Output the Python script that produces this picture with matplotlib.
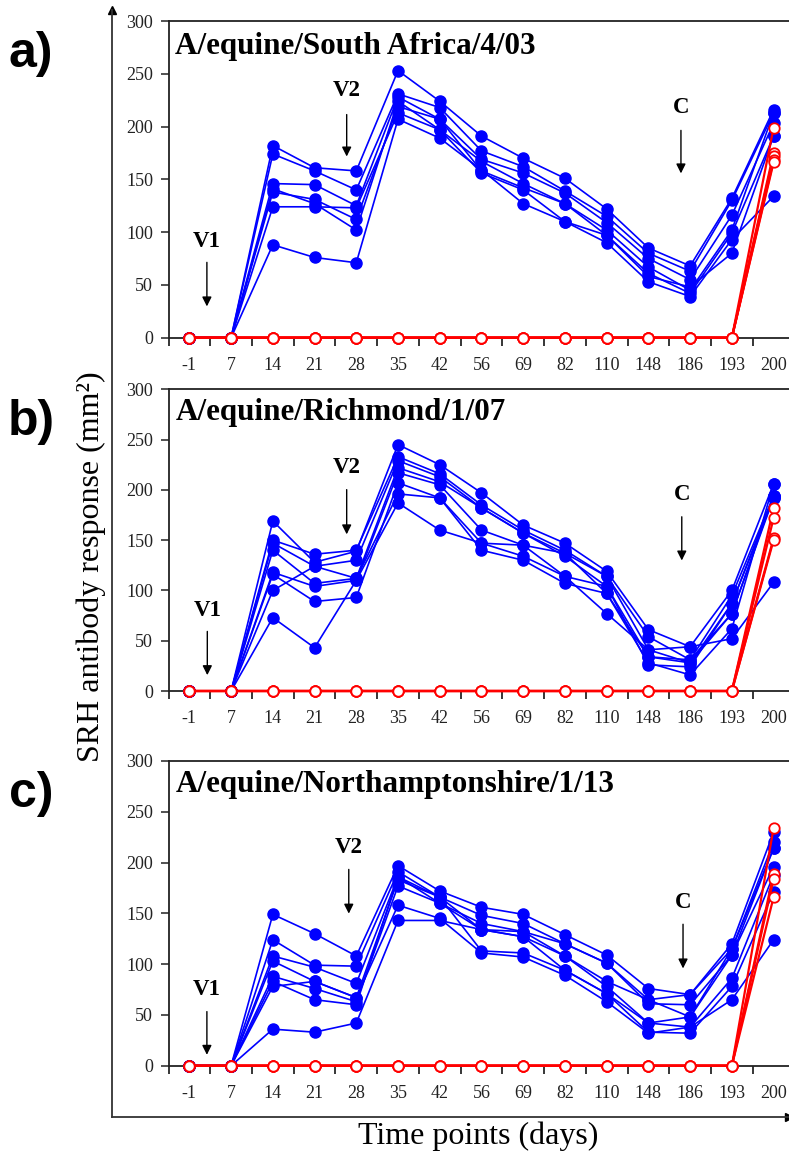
import matplotlib
matplotlib.use("Agg")
import matplotlib.pyplot as plt
import numpy as np

# time points (days), categorical axis
DAYS = ["-1", "7", "14", "21", "28", "35", "42", "56", "69", "82", "110", "148", "186", "193", "200"]

# SRH responses (mm^2), vaccinated ponies (blue) per panel
VAX_A = [
    [0, 0, 182, 161, 158, 253, 224, 191, 170, 151, 122, 85, 68, 132, 216],
    [0, 0, 174, 158, 140, 231, 218, 177, 162, 139, 115, 80, 63, 130, 213],
    [0, 0, 146, 145, 125, 228, 207, 169, 156, 137, 109, 75, 55, 116, 203],
    [0, 0, 141, 127, 102, 224, 197, 167, 146, 127, 102, 67, 45, 102, 213],
    [0, 0, 138, 131, 112, 219, 207, 158, 142, 127, 97, 61, 42, 99, 191],
    [0, 0, 124, 124, 123, 213, 197, 156, 140, 110, 90, 53, 39, 93, 134],
    [0, 0, 88, 76, 71, 207, 189, 159, 127, 110, 97, 58, 48, 80, 191],
]
VAX_B = [
    [0, 0, 169, 128, 139, 245, 225, 197, 165, 147, 119, 61, 44, 100, 206],
    [0, 0, 150, 136, 140, 233, 216, 185, 160, 140, 114, 54, 31, 95, 194],
    [0, 0, 147, 124, 130, 229, 213, 182, 157, 137, 114, 41, 28, 87, 192],
    [0, 0, 140, 107, 112, 222, 208, 182, 157, 134, 104, 34, 28, 77, 194],
    [0, 0, 118, 104, 110, 217, 205, 160, 145, 137, 97, 28, 16, 62, 206],
    [0, 0, 116, 89, 93, 207, 192, 147, 134, 114, 104, 26, 24, 87, 194],
    [0, 0, 100, 124, 112, 196, 192, 140, 130, 107, 97, 34, 31, 77, 192],
    [0, 0, 73, 43, 110, 187, 160, 147, 145, 114, 77, 41, 44, 52, 108],
]
VAX_C = [
    [0, 0, 149, 130, 108, 197, 172, 156, 149, 129, 109, 76, 70, 120, 230],
    [0, 0, 124, 99, 98, 191, 166, 148, 140, 120, 101, 65, 70, 115, 220],
    [0, 0, 108, 97, 81, 186, 160, 140, 132, 120, 101, 61, 60, 109, 214],
    [0, 0, 103, 83, 67, 183, 166, 134, 127, 108, 83, 65, 48, 109, 196],
    [0, 0, 88, 76, 63, 177, 160, 134, 132, 108, 78, 42, 38, 86, 188],
    [0, 0, 83, 65, 60, 186, 166, 113, 111, 94, 71, 33, 32, 78, 171],
    [0, 0, 78, 83, 67, 158, 145, 111, 107, 89, 63, 32, 38, 65, 124],
    [0, 0, 36, 33, 42, 143, 143, 134, 127, 94, 71, 42, 48, 115, 214],
]

# unvaccinated controls (red), challenged at day 186
CTRL_A = [
    [0, 0, 0, 0, 0, 0, 0, 0, 0, 0, 0, 0, 0, 0, 199],
    [0, 0, 0, 0, 0, 0, 0, 0, 0, 0, 0, 0, 0, 0, 175],
    [0, 0, 0, 0, 0, 0, 0, 0, 0, 0, 0, 0, 0, 0, 172],
    [0, 0, 0, 0, 0, 0, 0, 0, 0, 0, 0, 0, 0, 0, 168],
    [0, 0, 0, 0, 0, 0, 0, 0, 0, 0, 0, 0, 0, 0, 166],
]
CTRL_B = [
    [0, 0, 0, 0, 0, 0, 0, 0, 0, 0, 0, 0, 0, 0, 182],
    [0, 0, 0, 0, 0, 0, 0, 0, 0, 0, 0, 0, 0, 0, 172],
    [0, 0, 0, 0, 0, 0, 0, 0, 0, 0, 0, 0, 0, 0, 152],
    [0, 0, 0, 0, 0, 0, 0, 0, 0, 0, 0, 0, 0, 0, 150],
]
CTRL_C = [
    [0, 0, 0, 0, 0, 0, 0, 0, 0, 0, 0, 0, 0, 0, 234],
    [0, 0, 0, 0, 0, 0, 0, 0, 0, 0, 0, 0, 0, 0, 189],
    [0, 0, 0, 0, 0, 0, 0, 0, 0, 0, 0, 0, 0, 0, 184],
    [0, 0, 0, 0, 0, 0, 0, 0, 0, 0, 0, 0, 0, 0, 166],
]

TITLES = ["A/equine/South Africa/4/03", "A/equine/Richmond/1/07",
          "A/equine/Northamptonshire/1/13"]
PANEL_LETTERS = ["a)", "b)", "c)"]

# (x in category units, text y, arrow start y, arrow end y) for V1, V2, C
EVENTS = ["V1", "V2", "C"]
EVENT_POS = [
    [(0.42, 91, 74, 27), (3.77, 234, 214, 169), (11.78, 218, 199, 153)],
    [(0.43, 80, 62, 13), (3.77, 222, 203, 153), (11.80, 195, 176, 127)],
    [(0.42, 75, 56, 8), (3.82, 215, 196, 147), (11.83, 161, 142, 93)],
]

SERIF = ["Liberation Serif", "DejaVu Serif"]
plt.rcParams["font.family"] = SERIF

W, H = 789, 1151
fig = plt.figure(figsize=(W / 100, H / 100), dpi=100)

# outer axes: only the two arrowed lines + axis titles
outer = fig.add_axes([112 / W, 34 / H, (W - 112) / W, (1117 - 10) / H])
outer.set_facecolor("none")
for s in ["top", "right"]:
    outer.spines[s].set_visible(False)
for s in ["left", "bottom"]:
    outer.spines[s].set_color("#333333")
    outer.spines[s].set_linewidth(1.3)
outer.set_xticks([]); outer.set_yticks([])
outer.plot(1, 0, ">k", ms=6, transform=outer.transAxes, clip_on=False)
outer.plot(0, 1, "^k", ms=6, transform=outer.transAxes, clip_on=False)
outer.set_ylabel("SRH antibody response (mm²)", fontsize=23)
outer.yaxis.set_label_coords((106 - 112) / (W - 112), 0.497)
outer.set_xlabel("Time points (days)", fontsize=23)
outer.xaxis.set_label_coords((478 - 112) / (W - 112), -0.017)
outer.xaxis.label.set_va("center")

# panel boxes in pixels: (top, bottom of y=0)
PANEL_PX = [(21, 337.7), (389.3, 691), (761, 1065.7)]
LEFT_PX = 168.5
CAT_W = 41.73

vax_sets = [VAX_A, VAX_B, VAX_C]
ctrl_sets = [CTRL_A, CTRL_B, CTRL_C]
x = np.arange(len(DAYS))

for i, (top, bot) in enumerate(PANEL_PX):
    ax = fig.add_axes([LEFT_PX / W, 1 - bot / H, len(DAYS) * CAT_W / W, (bot - top) / H])
    ax.set_facecolor("none")
    ax.set_xlim(-0.5, len(DAYS) - 0.5)
    ax.set_ylim(0, 300)
    ax.spines["right"].set_visible(False)
    for s in ["left", "top", "bottom"]:
        ax.spines[s].set_linewidth(1.3)
        ax.spines[s].set_color("#222222")

    for row in vax_sets[i]:
        ax.plot(x, row, "-o", color="blue", lw=1.2, ms=8, mec="blue",
                clip_on=False, zorder=3)
    for row in ctrl_sets[i]:
        ax.plot(x, row, "-o", color="red", lw=1.6, ms=7.5, mfc="white", mec="red",
                mew=1.3, clip_on=False, zorder=4)

    ax.set_yticks(np.arange(0, 301, 50))
    ax.set_xticks(x)
    ax.set_xticklabels(DAYS)
    ax.set_xticks(np.arange(-0.5, len(DAYS)), minor=True)
    ax.tick_params(axis="x", which="major", length=0, pad=14, labelsize=13, colors="#222222")
    ax.tick_params(axis="x", which="minor", length=6, width=1.1, direction="out")
    ax.tick_params(axis="y", length=6, width=1.1, pad=5, labelsize=13, colors="#222222")

    ax.text(0.011, 269, TITLES[i], fontsize=22.4, fontweight="bold", ha="left",
            va="baseline", transform=ax.get_yaxis_transform())

    for name, (ex, ty, y0, y1) in zip(EVENTS, EVENT_POS[i]):
        ax.text(ex, ty, name, fontsize=16.5, fontweight="bold", ha="center", va="center")
        ax.annotate("", xy=(ex, y1), xytext=(ex, y0),
                    arrowprops=dict(arrowstyle="-|>", color="black", lw=1.0,
                                    mutation_scale=14))

    fig.text(31 / W, 1 - (top + 33) / H, PANEL_LETTERS[i], fontsize=36, fontweight="bold",
             family=["Liberation Sans Narrow", "Liberation Sans", "DejaVu Sans"],
             ha="center", va="center")

fig.savefig("out.png", dpi=100)
